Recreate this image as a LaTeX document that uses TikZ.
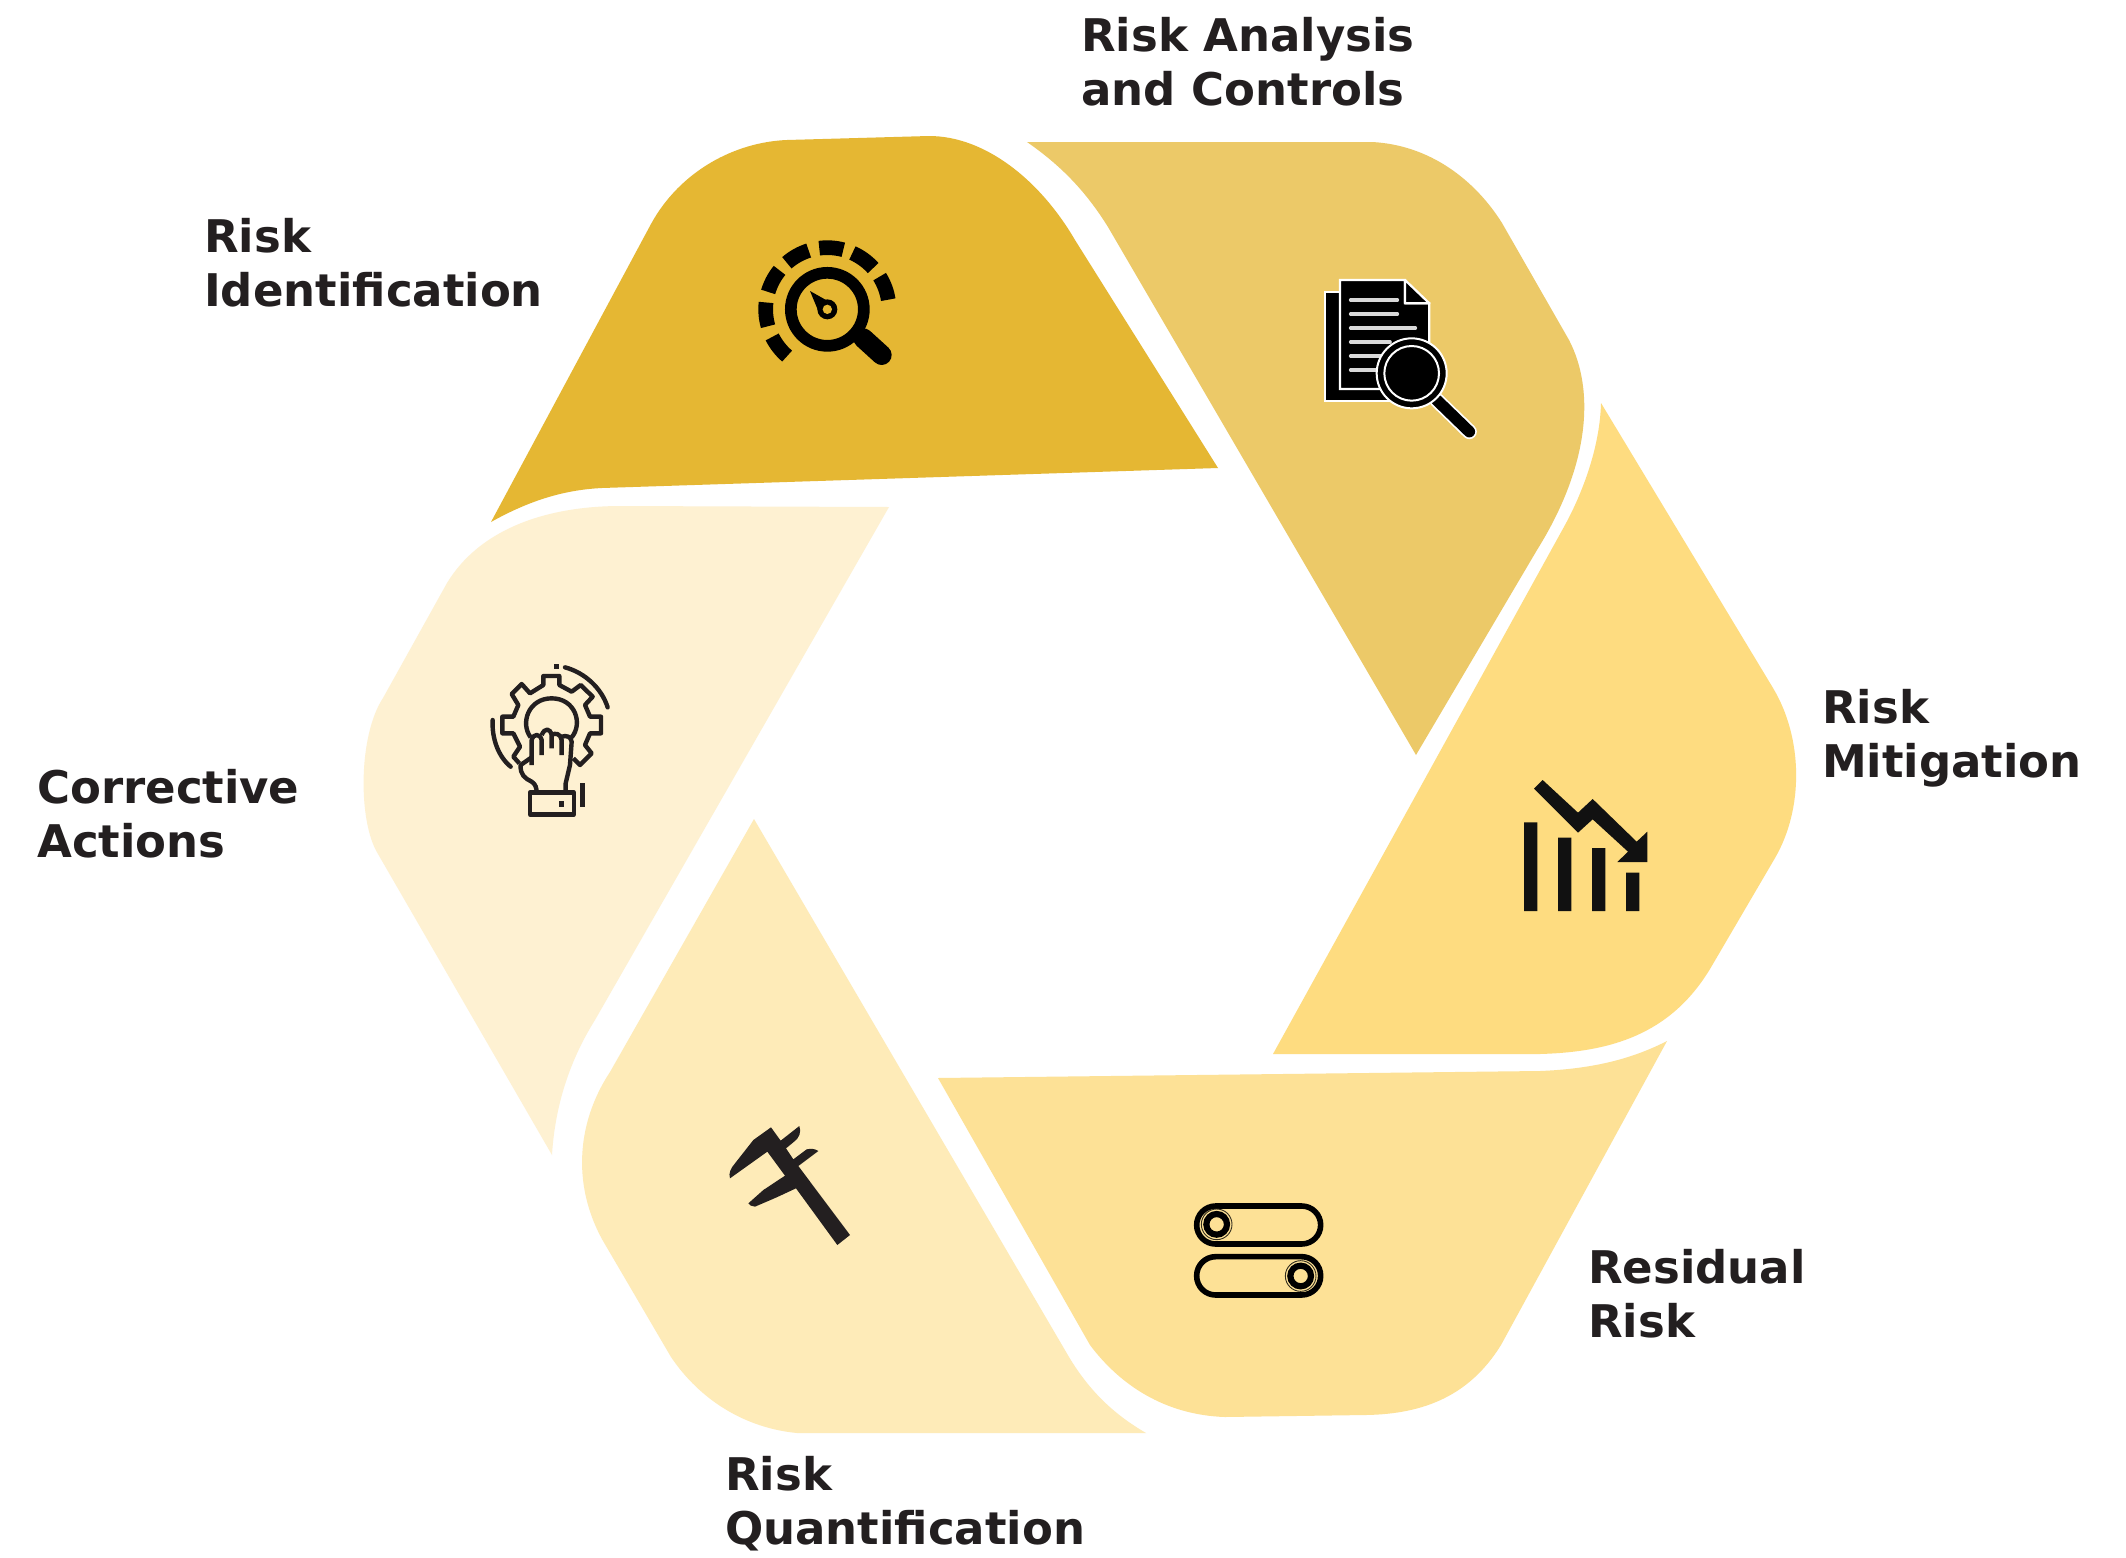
\documentclass[tikz,border=0pt]{standalone}
\usepackage{fontspec}
\setmainfont{DejaVu Sans}
\definecolor{cA}{HTML}{E5B733}
\definecolor{cB}{HTML}{ECC968}
\definecolor{cC}{HTML}{FEDC80}
\definecolor{cD}{HTML}{FDE196}
\definecolor{cE}{HTML}{FEEBB8}
\definecolor{cF}{HTML}{FEF1D2}
\definecolor{ink}{HTML}{231F20}
\definecolor{icoA}{HTML}{000000}
\definecolor{icoB}{HTML}{111111}
\tikzset{
  lbl/.style={anchor=west,inner sep=0pt,align=left,text=ink,font=\bfseries\fontsize{45}{54}\selectfont},
  gearline/.style={ink,line width=4.4pt}
}
\begin{document}
\begin{tikzpicture}[x=1pt,y=-1pt]
\useasboundingbox (0,0) rectangle (2126,1558);
\fill[white] (0,0) rectangle (2126,1558);
% petals
\fill[cA] (491,522) -- (651,224) .. controls (680,171) and (735,142) .. (787,140) -- (929,136)
  .. controls (985,136) and (1040,180) .. (1075,240) -- (1218,468) -- (602,488)
  .. controls (560,490) and (525,503) .. (491,522) -- cycle;
\fill[cB] (1027,142) -- (1372,142) .. controls (1430,145) and (1475,180) .. (1502,223) -- (1569,340)
  .. controls (1595,390) and (1590,465) .. (1537,550) -- (1416,755) -- (1108,227)
  .. controls (1085,190) and (1060,165) .. (1027,142) -- cycle;
\fill[cC] (1601,403) -- (1773,688) .. controls (1803,738) and (1804,808) .. (1775,858) -- (1710,969)
  .. controls (1670,1035) and (1610,1052) .. (1540,1054) -- (1273,1054) -- (1565,525)
  .. controls (1584,490) and (1600,445) .. (1601,403) -- cycle;
\fill[cD] (1667,1041) -- (1501,1345) .. controls (1470,1395) and (1425,1414) .. (1366,1415) -- (1225,1417)
  .. controls (1165,1415) and (1120,1385) .. (1090,1345) -- (938,1078) -- (1540,1071)
  .. controls (1590,1069) and (1630,1060) .. (1667,1041) -- cycle;
\fill[cE] (1146,1433) -- (797,1433) .. controls (745,1428) and (700,1400) .. (671,1357) -- (606,1246)
  .. controls (572,1190) and (575,1125) .. (610,1072) -- (754,819) -- (1069,1357)
  .. controls (1090,1392) and (1115,1415) .. (1146,1433) -- cycle;
\fill[cF] (552,1155) -- (378,854) .. controls (358,822) and (358,736) .. (383,698) -- (447,583)
  .. controls (478,532) and (540,507) .. (617,506) -- (889,507) -- (595,1020)
  .. controls (570,1060) and (555,1105) .. (552,1155) -- cycle;
% icon 1 gauge
\begin{scope}[shift={(720,210)},scale=1/3]
  \draw[icoA,line width=11.7pt] (322,298) circle (109.5);
  \draw[icoA,line width=20pt,line cap=round] (430,385) -- (485,435);
  \foreach \a/\b in {97.5/75,66/42,32/9,131/107.6,140.8/163.6,173.6/195.9,206.6/229.3}{
    \draw[icoA,line width=14.7pt] (322,298) ++(-\a:185) arc[start angle=-\a,end angle=-\b,radius=185];
  }
  \fill[icoA] (270,243) -- (318,270) -- (297,308) -- cycle;
  \fill[icoA] (322,298) circle (30);
  \fill[cA] (322,298) circle (14);
\end{scope}
% icon 2 documents
\begin{scope}[shift={(1290,260)},scale=1/3]
  \draw[white,line width=2.2pt,fill=black] (105,95) rectangle (320,422);
  \draw[white,line width=2.2pt,fill=black] (150,60) -- (345,60) -- (345,130) -- (418,130) -- (418,320) -- (320,387) -- (150,387) -- cycle;
  \draw[white,line width=2.2pt,fill=black,line join=round] (345,60) -- (418,130) -- (345,130) -- cycle;
  \draw[white!85!black,line width=3.6pt,line cap=round] (182,120) -- (322,120) (182,162) -- (322,162) (182,204) -- (376,204) (182,246) -- (300,246) (182,288) -- (275,288) (182,330) -- (260,330);
  \draw[white,line width=15pt,line cap=round] (440,420) -- (538,515);
  \draw[black,line width=11.5pt,line cap=round] (440,420) -- (538,515);
  \fill[black,draw=white,line width=2pt] (365,340) circle (105);
  \draw[white,line width=2pt] (365,340) circle (82);
\end{scope}
% icon 3 chart
\begin{scope}[shift={(1500,760)},scale=1/3]
  \fill[icoB] (72,187) rectangle (112,453) (174,233) rectangle (214,453) (276,264) rectangle (316,453) (378,338) rectangle (418,453);
  \fill[icoB] (128,60) -- (234,158) -- (278,117) -- (410,245) -- (442,215) -- (442,306) -- (352,306) -- (384,275) -- (278,178) -- (234,218) -- (102,86) -- cycle;
\end{scope}
% icon 4 toggles
\begin{scope}[shift={(1170,1180)},scale=1/3]
  \draw[black,line width=5.6pt,rounded corners=19pt] (80,78) rectangle (452,192);
  \draw[black,line width=5.6pt,rounded corners=19pt] (80,230) rectangle (452,345);
  \draw[black,line width=6.2pt] (140,133) circle (31);
  \draw[black,line width=6.2pt] (392,288) circle (31);
  \draw[black!80!cD,line width=.9pt] (140,133) circle (46);
  \draw[black!80!cD,line width=.9pt] (392,288) circle (46);
\end{scope}
% icon 5 caliper
\begin{scope}[shift={(710,1110)},scale=1/3]
  \fill[ink] (60,205) .. controls (55,190) and (62,175) .. (75,160) -- (130,90) -- (183,52) -- (212,92) -- (268,48)
    .. controls (275,65) and (268,85) .. (250,97) -- (228,115) -- (250,148) -- (290,118) .. controls (305,114) and (318,118) .. (325,123)
    -- (265,168) -- (420,375) -- (382,405) -- (258,235) -- (200,262) -- (135,290) .. controls (125,290) and (118,285) .. (115,280)
    -- (160,240) -- (225,197) -- (172,125) -- cycle;
\end{scope}
% icon 6 gear and hand
\begin{scope}[shift={(470,650)},scale=1/3,line join=round]
  \draw[gearline] (148,340) -- (130,320) -- (150,290) -- (130,250) -- (97,250) -- (97,200) -- (130,200) -- (145,165) -- (125,132) -- (155,102) -- (180,130) -- (220,105) -- (220,78) -- (268,78) -- (268,105) -- (305,125) -- (332,105) -- (368,140) -- (345,165) -- (360,200) -- (393,200) -- (393,250) -- (360,250) -- (345,285) -- (365,310) -- (330,345) -- (310,325);
  \draw[gearline] (182,262) .. controls (150,220) and (175,145) .. (245,145) .. controls (315,145) and (340,220) .. (305,262);
  \draw[gearline] (185,345) -- (185,270) .. controls (190,250) and (210,250) .. (215,270) -- (215,315);
  \draw[gearline] (215,255) .. controls (225,232) and (240,235) .. (245,255) -- (245,295);
  \draw[gearline] (245,255) .. controls (255,248) and (272,250) .. (275,270) -- (275,315);
  \draw[gearline] (275,260) .. controls (290,255) and (303,260) .. (305,275) -- (300,345) -- (287,400) -- (287,428);
  \draw[gearline] (185,322) -- (152,345) .. controls (150,375) and (165,385) .. (185,395) .. controls (197,402) and (200,415) .. (200,428);
  \draw[gearline] (180,428) rectangle (312,493);
  \fill[ink] (267,454) rectangle (283,470);
  \draw[gearline] (337,400) -- (337,472);
  \fill[ink] (252,42) rectangle (268,58);
  \draw[gearline,line cap=round] (285,52) .. controls (345,68) and (395,115) .. (413,172);
  \draw[gearline,line cap=round] (68,210) .. controls (65,265) and (85,320) .. (122,350);
\end{scope}
% labels
\node[lbl] (t1) at (1081,62) {Risk Analysis\\and Controls};
\node[lbl] (t2) at (204,263) {Risk\\Identification};
\node[lbl] (t3) at (37,814) {Corrective\\Actions};
\node[lbl] (t4) at (1822,738) {Risk\\Mitigation};
\node[lbl] (t5) at (1588,1294) {Residual\\Risk};
\node[lbl] (t6) at (725,1504) {Risk\\Quantification};
\end{tikzpicture}
\end{document}
